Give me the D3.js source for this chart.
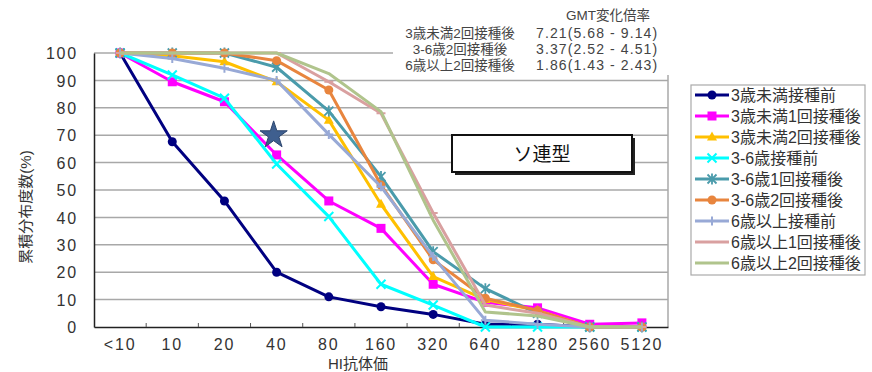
<!DOCTYPE html>
<html><head><meta charset="utf-8">
<script src="https://cdn.jsdelivr.net/npm/d3@7"></script>
<style>body{margin:0;background:#fff}svg{display:block}text{font-family:"Liberation Sans","Noto Sans CJK JP",sans-serif}</style>
</head><body>
<svg id="c" width="872" height="372"></svg>
<script>
const categories = ["<10","10","20","40","80","160","320","640","1280","2560","5120"];
const yTicks = [0,10,20,30,40,50,60,70,80,90,100];
const seriesNames = ["3歳未満接種前","3歳未満1回接種後","3歳未満2回接種後","3-6歳接種前","3-6歳1回接種後","3-6歳2回接種後","6歳以上接種前","6歳以上1回接種後","6歳以上2回接種後"];
const s1 = [100,67.6,46,20,11,7.4,4.6,1,1,0,0];
const s2 = [100,89.5,82.2,62.8,46,36,15.6,9,7,1,1.5];
const s3 = [100,99,96.8,89.5,75.5,44.8,18.4,10,6,0,0];
const s4 = [100,92,83.5,59.5,40.3,15.6,8,0,0,0,0];
const s5 = [100,100,100,94.8,78.8,54.9,27.5,14,5,0,0];
const s6 = [100,100,100,97.2,86.5,51.8,24.5,10.5,6,0,0];
const s7 = [100,98,94.4,90,70.3,51.2,25.7,2.5,1,0,0];
const s8 = [100,100,100,100,89.5,78,41.6,8,5,0,0];
const s9 = [100,100,100,100,92.5,78.6,39,5.5,4,0,0];
const seriesValues = [s1,s2,s3,s4,s5,s6,s7,s8,s9];
const starPoint = {cat:"40", value:70};
const gmtTitle = "GMT変化倍率";
const gmtLabels = ["3歳未満2回接種後","3-6歳2回接種後","6歳以上2回接種後"];
const gmtValues = ["7.21(5.68 - 9.14)","3.37(2.52 - 4.51)","1.86(1.43 - 2.43)"];
const boxLabel = "ソ連型";
const xTitle = "HI抗体価";
const yTitle = "累積分布度数(%)";

const colors = ["#000080","#ff00ff","#ffc000","#00ffff","#4a9bab","#e8853e","#98a9d6","#d9a0a0","#b0c48c"];
const markers = ["circle","square","triangle","x","asterisk","circle","plus","dash","none"];

const svg = d3.select("#c");
const L=94,R=668,T=53,B=327;
const x = d3.scaleBand().domain(categories).range([L,R]).padding(0);
const y = d3.scaleLinear().domain([0,100]).range([B,T]);
const cx = c => x(c)+x.bandwidth()/2;

// gridlines
svg.append("g").selectAll("line").data(yTicks.filter(d=>d>0)).join("line")
  .attr("x1",L).attr("x2",R).attr("y1",d=>y(d)).attr("y2",d=>y(d))
  .attr("stroke","#a8a8a8").attr("stroke-width",1.5);
svg.append("line").attr("x1",R).attr("x2",R).attr("y1",T).attr("y2",B).attr("stroke","#a8a8a8").attr("stroke-width",1.5);

// axes
const yAxis = svg.append("g").attr("transform",`translate(${L},0)`).call(d3.axisLeft(y).tickValues(yTicks).tickSize(0).tickPadding(16));
yAxis.select(".domain").attr("stroke","#222").attr("stroke-width",1.5);
yAxis.selectAll("text").attr("font-size",16).attr("fill","#333").attr("letter-spacing","1.8px").attr("dy","0.35em");
const xAxis = svg.append("g").attr("transform",`translate(0,${B})`).call(d3.axisBottom(x).tickSize(0).tickPadding(12));
xAxis.select(".domain").attr("stroke","#222").attr("stroke-width",1.5);
xAxis.selectAll("text").attr("font-size",16).attr("fill","#333").attr("letter-spacing","1.8px");
svg.append("g").selectAll("line").data(categories.slice(1)).join("line")
  .attr("x1",d=>x(d)).attr("x2",d=>x(d)).attr("y1",B).attr("y2",B-4).attr("stroke","#555").attr("stroke-width",1);

function drawMarker(g, type, px, py, color){
  const s=4.5;
  if(type==="circle") g.append("circle").attr("cx",px).attr("cy",py).attr("r",s).attr("fill",color);
  else if(type==="square") g.append("rect").attr("x",px-s).attr("y",py-s).attr("width",2*s).attr("height",2*s).attr("fill",color);
  else if(type==="triangle") g.append("path").attr("d",`M${px},${py-s-1}L${px+s+0.5},${py+s-1}L${px-s-0.5},${py+s-1}Z`).attr("fill",color);
  else if(type==="x") g.append("path").attr("d",`M${px-s},${py-s}L${px+s},${py+s}M${px-s},${py+s}L${px+s},${py-s}`).attr("stroke",color).attr("stroke-width",2);
  else if(type==="asterisk") g.append("path").attr("d",`M${px-s},${py-s}L${px+s},${py+s}M${px-s},${py+s}L${px+s},${py-s}M${px},${py-s-1}L${px},${py+s+1}`).attr("stroke",color).attr("stroke-width",1.8);
  else if(type==="plus") g.append("path").attr("d",`M${px-s},${py}L${px+s},${py}M${px},${py-s}L${px},${py+s}`).attr("stroke",color).attr("stroke-width",2);
  else if(type==="dash") g.append("path").attr("d",`M${px-s},${py}L${px+s},${py}`).attr("stroke",color).attr("stroke-width",2);
}

const line = d3.line().x((d,i)=>cx(categories[i])).y(d=>y(d));
const plot = svg.append("g");
seriesValues.forEach((vals,k)=>{
  const g = plot.append("g");
  g.append("path").attr("d",line(vals)).attr("fill","none").attr("stroke",colors[k]).attr("stroke-width",3).attr("stroke-linejoin","round");
  vals.forEach((v,i)=>drawMarker(g,markers[k],cx(categories[i]),y(v),colors[k]));
});

// star
const star = d3.symbol().type(d3.symbolStar).size(230);
svg.append("path").attr("d",star()).attr("transform",`translate(${cx(starPoint.cat)-3},${y(starPoint.value)})`)
  .attr("fill","#3f5f8f").attr("stroke","#2c466e").attr("stroke-width",1);

// GMT text block (white background)
svg.append("rect").attr("x",393).attr("y",0).attr("width",285).attr("height",75).attr("fill","#fff");
svg.append("text").attr("x",608).attr("y",20).attr("text-anchor","middle").attr("font-size",13.5).attr("fill","#444").text(gmtTitle);
gmtLabels.forEach((t,i)=>{
  svg.append("text").attr("x",460).attr("y",38+i*16).attr("text-anchor","middle").attr("font-size",13.5).attr("fill","#444").text(t);
  svg.append("text").attr("x",536).attr("y",38+i*16).attr("font-size",14).attr("fill","#444").attr("letter-spacing","1.1px").text(gmtValues[i]);
});

// box label
svg.append("rect").attr("x",455).attr("y",138).attr("width",180).attr("height",37).attr("fill","#222");
svg.append("rect").attr("x",452).attr("y",135).attr("width",180).attr("height",37).attr("fill","#fff").attr("stroke","#111").attr("stroke-width",2);
svg.append("text").attr("x",542).attr("y",161).attr("text-anchor","middle").attr("font-size",19).attr("fill","#111").attr("font-family","Noto Sans CJK JP").text(boxLabel);

// titles
svg.append("text").attr("x",358).attr("y",369).attr("text-anchor","middle").attr("font-size",15).attr("fill","#333").text(xTitle);
svg.append("text").attr("transform","translate(31,207) rotate(-90)").attr("text-anchor","middle").attr("font-size",15).attr("fill","#333").text(yTitle);

// legend
const lg = svg.append("g");
lg.append("rect").attr("x",691).attr("y",85).attr("width",174).attr("height",190).attr("fill","#fff").attr("stroke","#aaa").attr("stroke-width",1.2);
seriesNames.forEach((n,k)=>{
  const yy = 95 + k*21;
  lg.append("line").attr("x1",695).attr("x2",729).attr("y1",yy).attr("y2",yy).attr("stroke",colors[k]).attr("stroke-width",3);
  drawMarker(lg,markers[k],712,yy,colors[k]);
  lg.append("text").attr("x",731).attr("y",yy+5.5).attr("font-size",16).attr("fill","#333").attr("font-family","Noto Sans CJK JP").text(n);
});
</script>
</body></html>
